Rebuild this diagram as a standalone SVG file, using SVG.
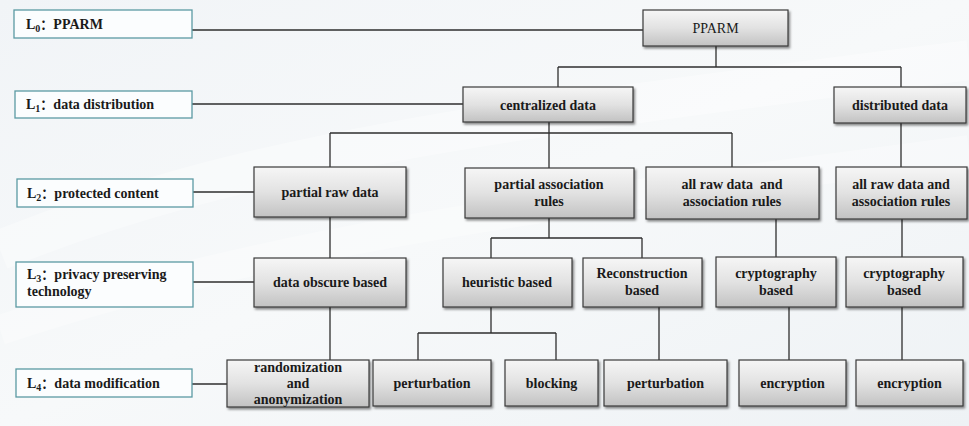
<svg xmlns="http://www.w3.org/2000/svg" width="969" height="426" viewBox="0 0 969 426">
<defs>
<linearGradient id="bg" x1="0" y1="0" x2="1" y2="1">
<stop offset="0" stop-color="#f1f4f7"/>
<stop offset="0.5" stop-color="#f7f9fa"/>
<stop offset="1" stop-color="#eef2f5"/>
</linearGradient>
<linearGradient id="nodeFill" x1="0" y1="0" x2="0" y2="1">
<stop offset="0" stop-color="#f6f6f6"/>
<stop offset="0.5" stop-color="#e2e2e2"/>
<stop offset="1" stop-color="#c2c2c2"/>
</linearGradient>
<filter id="shadow" x="-10%" y="-10%" width="125%" height="140%">
<feDropShadow dx="1.5" dy="2" stdDeviation="1.2" flood-color="#000" flood-opacity="0.45"/>
</filter>
<style>
.node rect{fill:url(#nodeFill);stroke:#3a3a3a;stroke-width:1.2;filter:url(#shadow)}
.lab rect{fill:#fbfdfe;stroke:#5b9aa3;stroke-width:1.3}
text{font-family:'Liberation Serif',serif;font-size:14px;font-weight:bold;fill:#1a1a1a}
.node text{text-anchor:middle}
.sub{font-size:10px}
.cjk{font-family:'Noto Sans CJK SC',sans-serif;font-size:13px}
#conn line{stroke:#2e2e2e;stroke-width:1.3}
</style>
</defs>
<rect x="0" y="0" width="969" height="426" fill="url(#bg)"/>
<path d="M0,250 C250,150 500,120 969,60" fill="none" stroke="#ffffff" stroke-width="40" opacity="0.35"/>
<path d="M0,330 C300,230 600,200 969,150" fill="none" stroke="#ffffff" stroke-width="30" opacity="0.3"/>

<g id="conn">
<line x1="192" y1="30" x2="643" y2="30"/>
<line x1="192" y1="104" x2="463" y2="104"/>
<line x1="193" y1="192" x2="254" y2="192"/>
<line x1="193" y1="282" x2="254" y2="282"/>
<line x1="192" y1="384" x2="227" y2="384"/>
<line x1="716" y1="46" x2="716" y2="67"/>
<line x1="558" y1="67" x2="901" y2="67"/>
<line x1="558" y1="67" x2="558" y2="87"/>
<line x1="901" y1="67" x2="901" y2="87"/>
<line x1="549" y1="122" x2="549" y2="133"/>
<line x1="330" y1="133" x2="732" y2="133"/>
<line x1="330" y1="133" x2="330" y2="167"/>
<line x1="549" y1="133" x2="549" y2="168"/>
<line x1="732" y1="133" x2="732" y2="167"/>
<line x1="901" y1="123" x2="901" y2="167"/>
<line x1="330" y1="217" x2="330" y2="258"/>
<line x1="549" y1="218" x2="549" y2="238"/>
<line x1="491" y1="238" x2="642" y2="238"/>
<line x1="491" y1="238" x2="491" y2="258"/>
<line x1="642" y1="238" x2="642" y2="258"/>
<line x1="776" y1="219" x2="776" y2="257"/>
<line x1="902" y1="219" x2="902" y2="257"/>
<line x1="330" y1="307" x2="330" y2="360"/>
<line x1="491" y1="307" x2="491" y2="333"/>
<line x1="418" y1="333" x2="556" y2="333"/>
<line x1="418" y1="333" x2="418" y2="360"/>
<line x1="556" y1="333" x2="556" y2="360"/>
<line x1="659" y1="307" x2="659" y2="360"/>
<line x1="789" y1="307" x2="789" y2="360"/>
<line x1="902" y1="307" x2="902" y2="360"/>
</g>

<g id="L0" class="lab"><rect x="14" y="10" width="178" height="28"/><text x="26" y="29">L<tspan class="sub" dy="3">0</tspan><tspan class="cjk" dy="-3">：</tspan>PPARM</text></g>
<g id="L1" class="lab"><rect x="15" y="91" width="177" height="27"/><text x="26" y="109">L<tspan class="sub" dy="3">1</tspan><tspan class="cjk" dy="-3">：</tspan>data distribution</text></g>
<g id="L2" class="lab"><rect x="17" y="179" width="176" height="28"/><text x="27" y="198">L<tspan class="sub" dy="3">2</tspan><tspan class="cjk" dy="-3">：</tspan>protected content</text></g>
<g id="L3" class="lab"><rect x="16" y="262" width="177" height="45"/><text x="27" y="279">L<tspan class="sub" dy="3">3</tspan><tspan class="cjk" dy="-3">：</tspan>privacy preserving</text><text x="27" y="296">technology</text></g>
<g id="L4" class="lab"><rect x="16" y="369" width="176" height="28"/><text x="27" y="388">L<tspan class="sub" dy="3">4</tspan><tspan class="cjk" dy="-3">：</tspan>data modification</text></g>

<g id="pparm" class="node"><rect x="643" y="10" width="145" height="36"/><text x="715.5" y="33" style="font-weight:normal">PPARM</text></g>
<g id="centralized" class="node"><rect x="463" y="87" width="170" height="35"/><text x="548" y="110">centralized data</text></g>
<g id="distributed" class="node"><rect x="834" y="87" width="132" height="36"/><text x="900" y="110">distributed data</text></g>
<g id="partialraw" class="node"><rect x="254" y="167" width="152" height="50"/><text x="330" y="197">partial raw data</text></g>
<g id="partialassoc" class="node"><rect x="465" y="168" width="169" height="50"/><text x="549" y="189">partial association</text><text x="549" y="206">rules</text></g>
<g id="allraw1" class="node"><rect x="646" y="167" width="173" height="52"/><text x="732" y="189" xml:space="preserve">all raw data  and</text><text x="732" y="206">association rules</text></g>
<g id="allraw2" class="node"><rect x="836" y="167" width="131" height="52"/><text x="901" y="189">all raw data and</text><text x="901" y="206">association rules</text></g>
<g id="obscure" class="node"><rect x="254" y="258" width="152" height="49"/><text x="330" y="287">data obscure based</text></g>
<g id="heuristic" class="node"><rect x="443" y="258" width="129" height="49"/><text x="507" y="287">heuristic based</text></g>
<g id="reconstruction" class="node"><rect x="583" y="258" width="119" height="49"/><text x="642" y="278">Reconstruction</text><text x="642" y="295">based</text></g>
<g id="crypto1" class="node"><rect x="716" y="257" width="120" height="50"/><text x="776" y="278">cryptography</text><text x="776" y="295">based</text></g>
<g id="crypto2" class="node"><rect x="846" y="257" width="117" height="50"/><text x="904" y="278">cryptography</text><text x="904" y="295">based</text></g>
<g id="randomization" class="node"><rect x="227" y="360" width="142" height="47"/><text x="298" y="372">randomization</text><text x="298" y="388">and</text><text x="298" y="404">anonymization</text></g>
<g id="perturbation1" class="node"><rect x="373" y="360" width="118" height="46"/><text x="432" y="388">perturbation</text></g>
<g id="blocking" class="node"><rect x="505" y="360" width="93" height="46"/><text x="551.5" y="388">blocking</text></g>
<g id="perturbation2" class="node"><rect x="604" y="360" width="123" height="46"/><text x="665.5" y="388">perturbation</text></g>
<g id="encryption1" class="node"><rect x="739" y="360" width="107" height="46"/><text x="792.5" y="388">encryption</text></g>
<g id="encryption2" class="node"><rect x="856" y="360" width="107" height="46"/><text x="909.5" y="388">encryption</text></g>
</svg>
